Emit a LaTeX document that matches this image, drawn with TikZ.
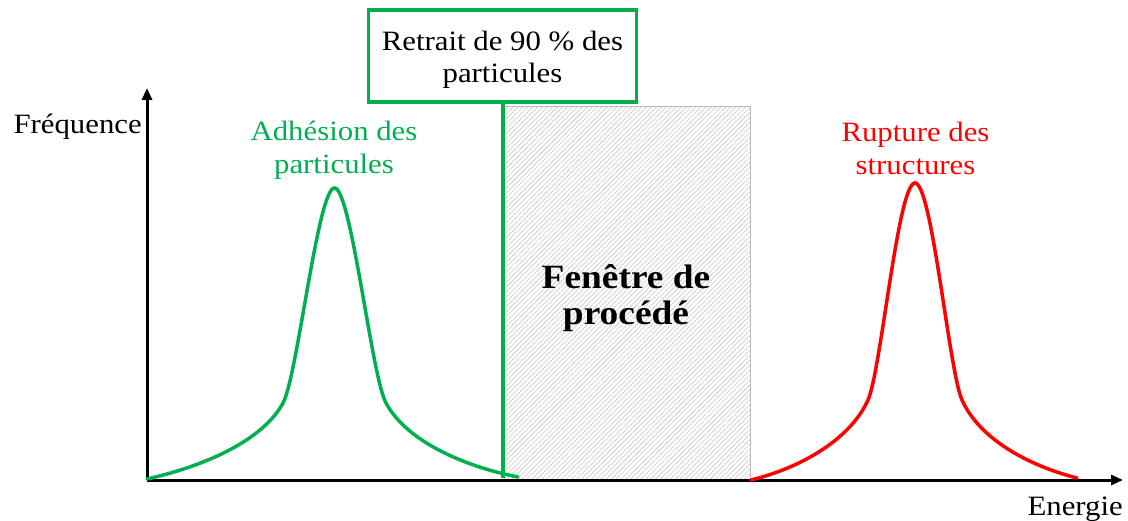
\documentclass[tikz,border=0pt]{standalone}
\usepackage{fontspec}
\setmainfont{Liberation Serif}[FakeStretch=1.1]
\usetikzlibrary{arrows.meta,patterns.meta}
\definecolor{pgreen}{HTML}{00B050}
\definecolor{pred}{HTML}{FF0000}
\begin{document}
\begin{tikzpicture}[x=1pt,y=-1pt,
  txt/.style={font=\fontsize{28}{33}\selectfont, align=center, inner sep=0pt},
  axisline/.style={line width=3pt, -{Triangle[width=10pt,length=12pt]}},
  peak/.style={line width=3.5pt, line cap=round},
  hatchbox/.style={draw=gray!55, line width=1pt,
    pattern={Lines[angle=45,distance=3.5pt,line width=0.8pt]},
    pattern color=gray!38, inner sep=0pt},
  labelbox/.style={draw=pgreen, line width=3.5pt, fill=white, inner sep=0pt}
]
\useasboundingbox (0,0) rectangle (1128,521);

% process window
\node[hatchbox, minimum width=246pt, minimum height=373pt] (win) at (627,293.5) {};
\node[txt, font=\fontsize{34}{36}\selectfont\bfseries] (wintxt) at (626,298) {Fenêtre de\\procédé};

% axes
\coordinate (O) at (147,480);
\coordinate (ytip) at (147,88);
\coordinate (xtip) at (1123,480);
\draw[axisline] (O) -- (ytip);
\draw[axisline] (O) -- (xtip);
\node[txt, anchor=base east] (ylab) at (142,134) {Fréquence};
\node[txt, anchor=base east] (xlab) at (1123,515) {Energie};

% green peak
\draw[peak, pgreen] (147,479) .. controls (205,466) and (264,440) .. (283.5,402)
  .. controls (298,372) and (318,188) .. (334.5,188)
  .. controls (351,188) and (371,372) .. (385.5,402)
  .. controls (405,440) and (462,466) .. (518,477);
\node[txt, text=pgreen] (glab) at (334,150) {Adhésion des\\particules};

% red peak
\draw[peak, pred] (751,480) .. controls (800,468) and (850,440) .. (868,400)
  .. controls (881,371) and (898,183) .. (915,183)
  .. controls (932,183) and (949,371) .. (962,400)
  .. controls (980,440) and (1030,466) .. (1077,478);
\node[txt, text=pred] (rlab) at (915.5,148) {Rupture des\\structures};

% 90 % threshold
\node[labelbox, minimum width=268pt, minimum height=92pt] (box) at (502.5,56) {};
\node[txt, font=\fontsize{28}{32}\selectfont] (boxtxt) at (502.5,60) {Retrait de 90 \% des\\particules};
\coordinate (gbot) at (502.5,478);
\draw[pgreen, line width=4pt] (box.south) -- (gbot);
\end{tikzpicture}
\end{document}
